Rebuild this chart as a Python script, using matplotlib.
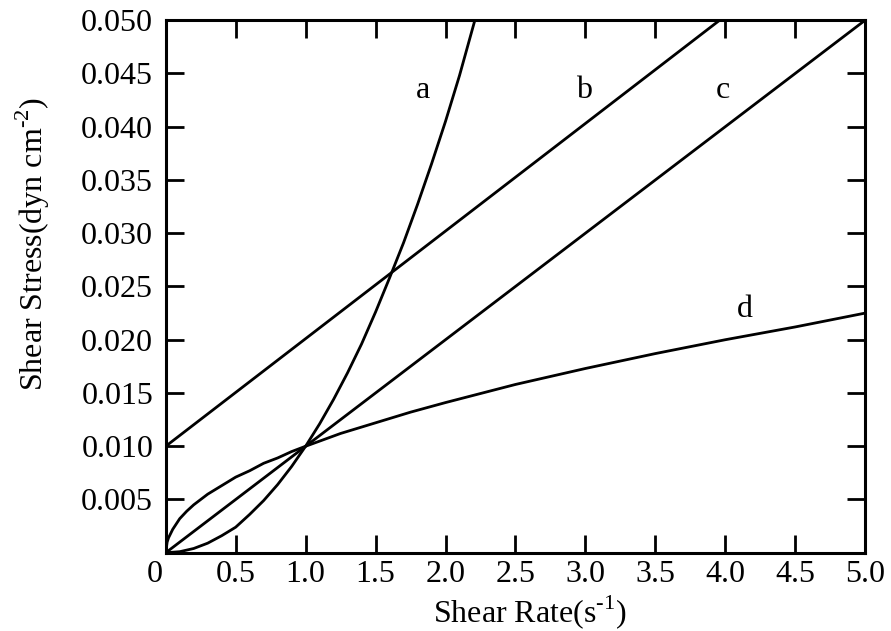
import numpy as np
import matplotlib.pyplot as plt
import matplotlib.transforms as mtransforms

# curve values
# a: shear-thickening (dilatant)
rate_a = [0, 0.1, 0.2, 0.3, 0.4, 0.5, 0.6, 0.7, 0.8, 0.9, 1.0, 1.1, 1.2, 1.3,
          1.4, 1.5, 1.6, 1.7, 1.8, 1.9, 2.0, 2.1, 2.21]
stress_a = [0, 0.0001, 0.0004, 0.0009, 0.0016, 0.0024, 0.0036, 0.0049, 0.0064,
            0.0081, 0.0100, 0.0121, 0.0144, 0.0169, 0.0196, 0.0226, 0.0258,
            0.0291, 0.0327, 0.0365, 0.0405, 0.0448, 0.0500]
# b: Bingham plastic
rate_b = [0, 3.96]
stress_b = [0.010, 0.050]
# c: Newtonian
rate_c = [0, 5.0]
stress_c = [0, 0.050]
# d: shear-thinning (pseudoplastic)
rate_d = [0, 0.01, 0.02, 0.05, 0.1, 0.15, 0.2, 0.3, 0.4, 0.5, 0.6, 0.7, 0.8, 0.9,
          1.0, 1.25, 1.5, 1.75, 2.0, 2.5, 3.0, 3.5, 4.0, 4.5, 5.0]
stress_d = [0, 0.0010, 0.0014, 0.0022, 0.0032, 0.0039, 0.0045, 0.0055, 0.0063,
            0.0071, 0.0077, 0.0084, 0.0089, 0.0095, 0.0100, 0.0112, 0.0122,
            0.0132, 0.0141, 0.0158, 0.0173, 0.0187, 0.0200, 0.0212, 0.0225]

curve_names = ["a", "b", "c", "d"]
name_x = [1.84, 2.99, 3.98, 4.14]
name_y = [0.0434, 0.0434, 0.0434, 0.0228]

x_ticks = [0, 0.5, 1.0, 1.5, 2.0, 2.5, 3.0, 3.5, 4.0, 4.5, 5.0]
x_tick_labels = ["0", "0.5", "1.0", "1.5", "2.0", "2.5", "3.0", "3.5", "4.0", "4.5", "5.0"]
y_ticks = [0.005, 0.010, 0.015, 0.020, 0.025, 0.030, 0.035, 0.040, 0.045, 0.050]
y_tick_labels = [f"{v:.3f}" for v in y_ticks]

plt.rcParams["font.family"] = ["Liberation Serif", "DejaVu Serif"]
plt.rcParams["mathtext.fontset"] = "custom"
plt.rcParams["mathtext.rm"] = "Liberation Serif"

fig = plt.figure(figsize=(8.91, 6.31), dpi=100)
ax = fig.add_axes([0.186, 0.124, 0.785, 0.844])

for xs, ys in [(rate_a, stress_a), (rate_b, stress_b), (rate_c, stress_c), (rate_d, stress_d)]:
    ax.plot(xs, ys, color="black", lw=2.0, solid_capstyle="butt")

for name, tx, ty in zip(curve_names, name_x, name_y):
    ax.text(tx, ty, name, fontsize=23, ha="center", va="center")

ax.set_xlim(0, 5.0)
ax.set_ylim(0, 0.050)
ax.set_xticks(x_ticks)
ax.set_xticklabels(x_tick_labels)
ax.set_yticks(y_ticks)
ax.set_yticklabels(y_tick_labels)
ax.tick_params(direction="in", length=13, width=2.0, labelsize=23,
               top=True, right=True)
ax.tick_params(axis="y", pad=9)
ax.tick_params(axis="x", pad=5)
for sp in ax.spines.values():
    sp.set_linewidth(2.2)

# the "0" sits a little left of the corner
zero_lbl = ax.get_xticklabels()[0]
zero_lbl.set_transform(zero_lbl.get_transform() +
                       mtransforms.ScaledTranslation(-8 / 72, 0, fig.dpi_scale_trans))

ax.set_xlabel("Shear Rate(s$^{\\mathregular{\u2010 1}}$)", fontsize=23, labelpad=2)
ax.set_ylabel("Shear Stress(dyn cm$^{\\mathregular{\u2010 2}}$)", fontsize=23)
ax.xaxis.set_label_coords(0.52, -0.075)
ax.yaxis.set_label_coords(-0.162, 0.58)

fig.savefig("out.png", dpi=100)
